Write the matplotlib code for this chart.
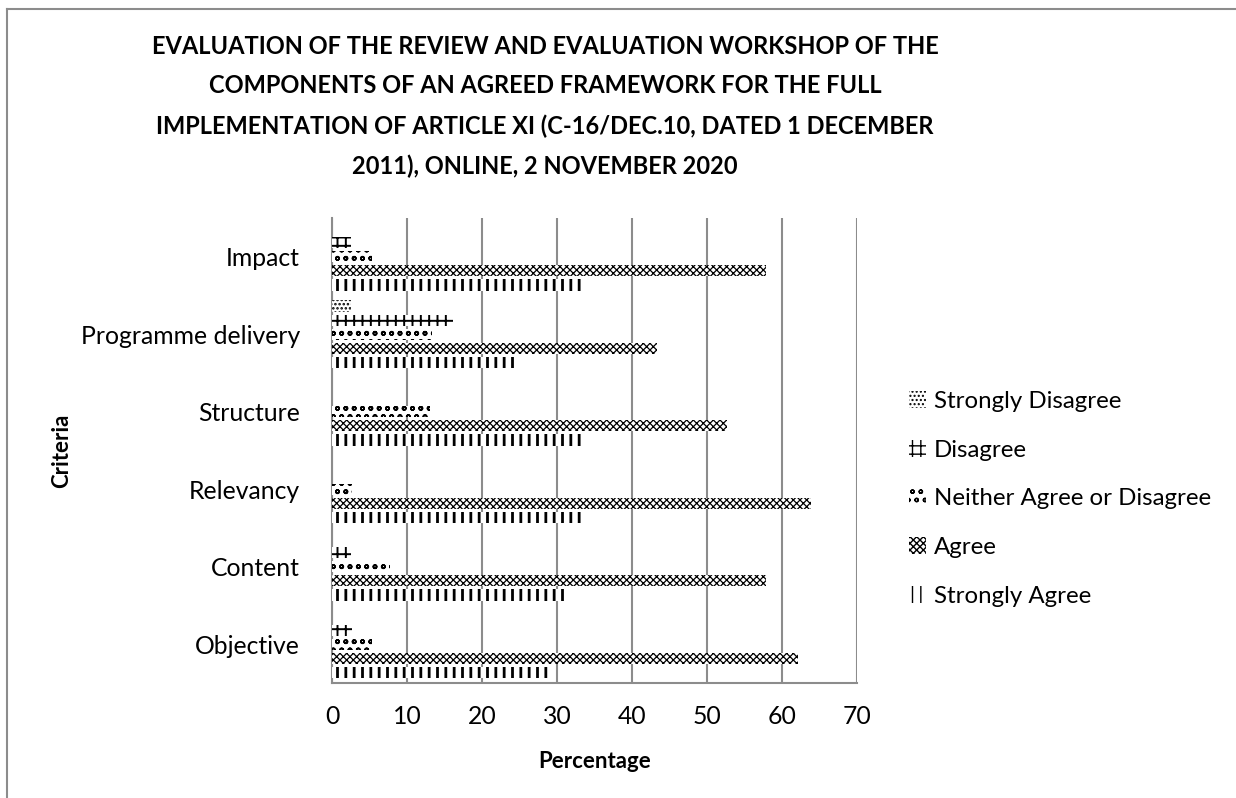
import matplotlib
matplotlib.use("Agg")
import matplotlib.pyplot as plt
from matplotlib.lines import Line2D
import numpy as np

plt.rcParams['font.family'] = ['Lato', 'DejaVu Sans']

categories = ["Objective", "Content", "Relevancy", "Structure", "Programme delivery", "Impact"]
series_names = ["Strongly Agree", "Agree", "Neither Agree or Disagree", "Disagree", "Strongly Disagree"]
strongly_agree = [29.2, 31.3, 33.4, 33.7, 24.2, 33.7]
agree = [62.1, 57.9, 63.9, 52.6, 43.3, 57.9]
neither = [5.3, 7.7, 2.7, 13.1, 13.4, 5.3]
disagree = [2.7, 2.6, 0, 0, 16.1, 2.6]
strongly_disagree = [0, 0, 0, 0, 2.6, 0]
x_ticks = [0, 10, 20, 30, 40, 50, 60, 70]

title = ("EVALUATION OF THE REVIEW AND EVALUATION WORKSHOP OF THE\n"
         "COMPONENTS OF AN AGREED FRAMEWORK FOR THE FULL\n"
         "IMPLEMENTATION OF ARTICLE XI (C-16/DEC.10, DATED 1 DECEMBER\n"
         "2011), ONLINE, 2 NOVEMBER 2020")

values = [strongly_agree, agree, neither, disagree, strongly_disagree]
hatches = ['||', 'xxxxx', 'oo', '++', '....']
hlw = [2.0, 0.9, 1.2, 1.4, 1.2]

W, H = 1236, 798
fig = plt.figure(figsize=(W/100, H/100), dpi=100)
ax = fig.add_axes([332/W, 1-683/H, (857-332)/W, (683-218)/H])

# outer chart frame (only left and top edges visible)
fig.add_artist(Line2D([7/W, 7/W], [0, 1-9/H], transform=fig.transFigure,
                      color='#8c8c8c', linewidth=1.5))
fig.add_artist(Line2D([7/W, 1], [1-9/H, 1-9/H], transform=fig.transFigure,
                      color='#8c8c8c', linewidth=1.5))

slot = 1/5.5
y = np.arange(len(categories))
handles = []
for j, (vals, name) in enumerate(zip(values, series_names)):
    with plt.rc_context({'hatch.linewidth': hlw[j], 'hatch.color': 'black'}):
        bars = ax.barh(y + (j - 2) * slot, vals, height=slot * 0.8, color='white',
                       edgecolor='black', linewidth=0, hatch=hatches[j], label=name, zorder=3)
    handles.append(bars)

ax.set_xlim(0, 70)
ax.set_ylim(-0.5, len(categories) - 0.5)
ax.set_xticks(x_ticks)
ax.set_yticks(y)
ax.set_yticklabels(categories)
ax.tick_params(axis='both', length=0, labelsize=17.8, colors='black')
ax.tick_params(axis='y', pad=23)
ax.tick_params(axis='x', pad=16)
ax.grid(axis='x', color='#8c8c8c', linewidth=1.5, zorder=0)
for s in ['top', 'right']:
    ax.spines[s].set_visible(False)
for s in ['left', 'bottom']:
    ax.spines[s].set_color('#8c8c8c')
    ax.spines[s].set_linewidth(1.5)

ax.set_xlabel("Percentage", fontsize=16, fontweight='bold')
ax.set_ylabel("Criteria", fontsize=16, fontweight='bold')
ax.yaxis.set_label_coords(-(332-62)/525, 0.5)
ax.xaxis.set_label_coords(0.5, -(761-683)/465)
ax.xaxis.label.set_va('center')
ax.yaxis.label.set_va('center')

fig.text(545/W, 1-35/H, title, ha='center', va='top', fontsize=17,
         fontweight='bold', linespacing=1.86)

leg = fig.legend(handles[::-1], series_names[::-1], loc='upper left',
                 bbox_to_anchor=(909/W, 1-391/H), frameon=False, fontsize=17.3,
                 handlelength=0.7, handleheight=0.7, handletextpad=0.35, labelspacing=1.15,
                 borderaxespad=0, borderpad=0)

fig.savefig("out.png", dpi=100)
